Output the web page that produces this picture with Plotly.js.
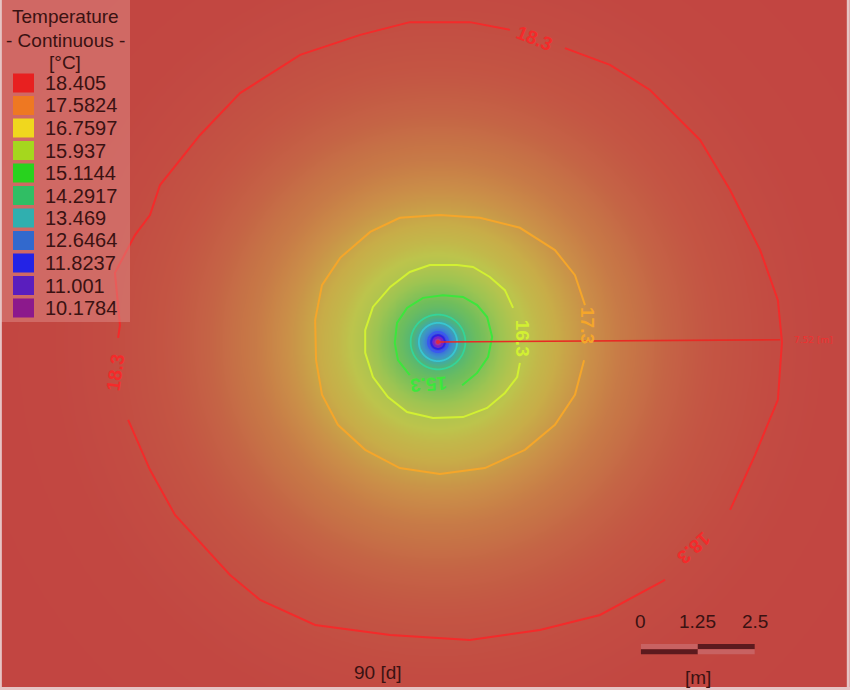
<!DOCTYPE html>
<html><head><meta charset="utf-8">
<script src="https://cdn.plot.ly/plotly-3.0.1.min.js"></script>
<style>html,body{margin:0;padding:0;background:#C24541;}#chart{width:850px;height:690px;}</style>
</head><body><div id="chart"></div>
<script>
// ---------- data ----------
// radial temperature profile around the borehole (distance m -> °C)
const profileR = [0, 0.05, 0.1, 0.15, 0.22, 0.42, 0.6, 0.8, 1.08, 1.4, 1.7, 2.2, 2.7, 3.2, 4.0, 5.0, 6.0, 7.3, 8.5, 10.5, 13];
const profileT = [10.0, 10.1, 10.3, 11.3, 12.3, 13.3, 14.3, 14.8, 15.3, 15.85, 16.3, 16.75, 17.05, 17.3, 17.65, 17.95, 18.15, 18.3, 18.37, 18.4, 18.405];

// displayed (faded) field colours
const fieldStopT = [10.0, 11.0, 12.0, 12.8, 13.4, 14.2, 15.0, 15.8, 16.5, 17.0, 17.4, 17.8, 18.1, 18.405];
const fieldStopColor = ['#A83C9A', '#4A2AD8', '#3C5AE0', '#3C90CC', '#42AAA4', '#52B676', '#70BE5C', '#9CC452',
  '#BCC44C', '#C8AC48', '#CA8C48', '#C67046', '#C45844', '#C24541'];

// legend
const legendTitle = ['Temperature', '- Continuous -', '[°C]'];
const legendValues = ['18.405', '17.5824', '16.7597', '15.937', '15.1144', '14.2917', '13.469', '12.6464', '11.8237', '11.001', '10.1784'];
const legendColors = ['#E82020', '#EE7822', '#F0D71E', '#A5D71E', '#28D21E', '#30BE64', '#30AFAF', '#3269CD', '#2323E6', '#5A1EBE', '#8C198C'];

// traced isolines (m); null = gap for the label
const iso183x = [2.79, 3.78, 4.66, 5.76, 6.42, 7.08, 7.47, 7.56, 7.47, 6.97, 6.42, null,
  4.99, 3.56, 2.24, 0.70, -1.05, -2.70, -3.91, -4.57, -5.78, -6.33, -6.81, null,
  -7.03, -6.99, -7.10, -6.66, -6.33, -6.11, -5.23, -4.35, -3.03, -1.71, -0.62, 0.70, 1.58];
const iso183y = [6.46, 6.09, 5.54, 4.44, 3.34, 2.02, 0.92, 0.00, -1.27, -2.48, -3.69, null,
  -5.23, -6.00, -6.33, -6.55, -6.44, -6.22, -5.67, -5.12, -3.80, -2.81, -1.71, null,
  0.09, 0.37, 1.52, 2.35, 2.79, 3.45, 4.55, 5.47, 6.31, 6.75, 7.03, 7.03, 6.86];
const iso173x = [3.21, 3.01, 2.57, 1.91, 1.03, 0.04, -0.84, -1.60, -2.20, -2.55, -2.68, -2.70, -2.55, -2.15, -1.49, -0.84, 0.04, 0.92, 1.80, 2.57, 3.01, 3.23];
const iso173y = [-0.40, -1.16, -1.82, -2.37, -2.77, -2.90, -2.77, -2.37, -1.82, -1.16, -0.40, 0.48, 1.25, 1.85, 2.42, 2.73, 2.79, 2.73, 2.51, 2.02, 1.47, 0.81];
const iso163x = [1.80, 1.74, 1.47, 1.08, 0.55, -0.11, -0.68, -1.10, -1.43, -1.60, -1.60, -1.43, -1.05, -0.62, -0.18, 0.42, 0.77, 1.14, 1.47, 1.65];
const iso163y = [-0.46, -0.77, -1.12, -1.45, -1.65, -1.67, -1.54, -1.21, -0.77, -0.24, 0.26, 0.77, 1.21, 1.54, 1.69, 1.69, 1.65, 1.43, 1.14, 0.75];
const iso153x = [0.53, 0.86, 1.10, 1.19, 1.08, 0.86, 0.55, 0.11, -0.33, -0.68, -0.90, -0.95, -0.88, -0.62];
const iso153y = [-0.95, -0.68, -0.33, 0.11, 0.55, 0.81, 0.99, 1.03, 0.97, 0.75, 0.42, -0.02, -0.40, -0.73];

const isoSets = [
  {x: iso183x, y: iso183y, color: '#F42A2A'},
  {x: iso173x, y: iso173y, color: '#F5A62A'},
  {x: iso163x, y: iso163y, color: '#D2F032'},
  {x: iso153x, y: iso153y, color: '#3CE63C'}
];
const innerLevels = [14.3, 13.3, 12.3, 11.3, 10.3];
const innerColors = ['#34D49A', '#38C6D2', '#3A58F0', '#2A22E2', '#7A22C8'];

// isoline labels
const isoLabelText = ['18.3', '18.3', '18.3', '17.3', '16.3', '15.3'];
const isoLabelX = [2.13, 5.63, -7.10, 3.30, 1.85, -0.22];
const isoLabelY = [6.68, -4.53, -0.66, 0.37, 0.09, -0.92];
const isoLabelAngle = [22, 138, -82, 90, 90, 176];
const isoLabelColor = ['#F42A2A', '#F42A2A', '#F42A2A', '#F5A62A', '#D2F032', '#3CE63C'];

const radiusLen = 7.52;       // m, measured line
const scaleTicks = [0, 1.25, 2.5];
const timeLabel = '90 [d]';

// ---------- build tables ----------
function tempAt(r) {
  if (r <= profileR[0]) return profileT[0];
  for (let i = 1; i < profileR.length; i++) {
    if (r <= profileR[i]) {
      const t = (r - profileR[i - 1]) / (profileR[i] - profileR[i - 1]);
      return profileT[i - 1] + t * (profileT[i] - profileT[i - 1]);
    }
  }
  return profileT[profileT.length - 1];
}
function grid(x0, x1, y0, y1, step) {
  const xs = [], ys = [], z = [];
  const nx = Math.round((x1 - x0) / step), ny = Math.round((y1 - y0) / step);
  for (let i = 0; i <= nx; i++) xs.push(x0 + i * step);
  for (let j = 0; j <= ny; j++) ys.push(y0 + j * step);
  for (let j = 0; j <= ny; j++) {
    const row = [];
    for (let i = 0; i <= nx; i++) row.push(tempAt(Math.hypot(xs[i], ys[j])));
    z.push(row);
  }
  return {xs, ys, z};
}
const zmin = fieldStopT[0], zmax = fieldStopT[fieldStopT.length - 1];
const colorscale = fieldStopT.map((t, i) => [(t - zmin) / (zmax - zmin), fieldStopColor[i]]);

const coarse = grid(-9.8, 9.2, -7.8, 7.7, 0.05);
const fine = grid(-0.9, 0.9, -0.9, 0.9, 0.01);

const traces = [];
traces.push({type: 'heatmap', x: coarse.xs, y: coarse.ys, z: coarse.z, zmin, zmax, colorscale,
  zsmooth: 'best', showscale: false, hoverinfo: 'skip'});
traces.push({type: 'heatmap', x: fine.xs, y: fine.ys, z: fine.z, zmin, zmax, colorscale,
  zsmooth: 'best', showscale: false, hoverinfo: 'skip'});
innerLevels.forEach((L, i) => traces.push({type: 'contour', x: fine.xs, y: fine.ys, z: fine.z,
  contours: {start: L, end: L, size: 1, coloring: 'none'}, line: {color: innerColors[i], width: 1.8, smoothing: 1},
  showscale: false, hoverinfo: 'skip'}));
isoSets.forEach(s => traces.push({type: 'scatter', mode: 'lines', x: s.x, y: s.y, connectgaps: false,
  line: {color: s.color, width: 2}, hoverinfo: 'skip'}));
traces.push({type: 'scatter', mode: 'lines', x: [0, radiusLen], y: [0, 0.05],
  line: {color: '#E82A24', width: 1.6}, hoverinfo: 'skip'});
traces.push({type: 'scatter', mode: 'markers', x: [0], y: [0],
  marker: {color: '#E02A40', size: 4}, hoverinfo: 'skip'});

// ---------- layout ----------
const W = 850, H = 690;
const px = v => v / W, py = v => 1 - v / H;
const textColor = '#3A1212';
const font = 'Liberation Sans, Arial, sans-serif';
const annotations = [];
const shapes = [];

isoLabelText.forEach((t, i) => annotations.push({x: isoLabelX[i], y: isoLabelY[i], xref: 'x', yref: 'y',
  text: '<b>' + t + '</b>', showarrow: false, textangle: isoLabelAngle[i],
  font: {family: font, size: 19, color: isoLabelColor[i]}}));
annotations.push({x: radiusLen, y: 0.05, xref: 'x', yref: 'y', text: radiusLen.toFixed(2) + ' [m]', showarrow: false,
  xanchor: 'left', xshift: 12, font: {family: 'DejaVu Sans, sans-serif', size: 9, color: '#F03030'}});

// legend box
shapes.push({type: 'rect', xref: 'paper', yref: 'paper', x0: 0, x1: px(130), y0: py(322), y1: 1,
  fillcolor: 'rgba(222,140,135,0.5)', line: {width: 0}, layer: 'above'});
const titleY = [16, 40, 62];
legendTitle.forEach((t, i) => annotations.push({x: px(65), y: py(titleY[i]), xref: 'paper', yref: 'paper', text: t,
  showarrow: false, xanchor: 'center', yanchor: 'middle', font: {family: font, size: 19, color: textColor}}));
legendValues.forEach((v, i) => {
  const cy = 83 + i * 22.5;
  shapes.push({type: 'rect', xref: 'paper', yref: 'paper', x0: px(13), x1: px(34), y0: py(cy + 9.5), y1: py(cy - 9.5),
    fillcolor: legendColors[i], line: {width: 0}, layer: 'above'});
  annotations.push({x: px(43), y: py(cy), xref: 'paper', yref: 'paper', text: v, showarrow: false,
    xanchor: 'left', yanchor: 'middle', font: {family: font, size: 20, color: textColor}});
});

// scale bar (data coordinates, metres)
const sb0 = 4.46, sbTop = -6.64, sbMid = -6.75, sbBot = -6.86;
const half = scaleTicks[1] - scaleTicks[0];
const sbLight = '#C86262', sbDark = '#5C1A1E';
shapes.push({type: 'rect', x0: sb0, x1: sb0 + half, y0: sbMid, y1: sbTop, fillcolor: sbLight, line: {width: 0}});
shapes.push({type: 'rect', x0: sb0, x1: sb0 + half, y0: sbBot, y1: sbMid, fillcolor: sbDark, line: {width: 0}});
shapes.push({type: 'rect', x0: sb0 + half, x1: sb0 + 2 * half, y0: sbMid, y1: sbTop, fillcolor: sbDark, line: {width: 0}});
shapes.push({type: 'rect', x0: sb0 + half, x1: sb0 + 2 * half, y0: sbBot, y1: sbMid, fillcolor: sbLight, line: {width: 0}});
scaleTicks.forEach(t => annotations.push({x: sb0 + t, y: py(621), xref: 'x', yref: 'paper', text: String(t),
  showarrow: false, xanchor: 'center', yanchor: 'middle', font: {family: font, size: 19, color: textColor}}));
annotations.push({x: sb0 + half, y: py(677), xref: 'x', yref: 'paper', text: '[m]', showarrow: false,
  xanchor: 'center', yanchor: 'middle', font: {family: font, size: 19, color: textColor}});
annotations.push({x: px(378), y: py(672), xref: 'paper', yref: 'paper', text: timeLabel, showarrow: false,
  xanchor: 'center', yanchor: 'middle', font: {family: font, size: 19, color: textColor}});

// thin frame
shapes.push({type: 'line', xref: 'paper', yref: 'paper', x0: 0.001, x1: 0.001, y0: 0, y1: 1, line: {color: '#E6C4C4', width: 2}, layer: 'above'});
shapes.push({type: 'line', xref: 'paper', yref: 'paper', x0: 0.998, x1: 0.998, y0: 0, y1: 1, line: {color: '#E6C4C4', width: 3}, layer: 'above'});
shapes.push({type: 'line', xref: 'paper', yref: 'paper', x0: 0, x1: 1, y0: 0.002, y1: 0.002, line: {color: '#E6C4C4', width: 3}, layer: 'above'});

const pxPerM = 45.5, cx = 438, cy = 342;
const layout = {
  width: W, height: H, margin: {l: 0, r: 0, t: 0, b: 0},
  paper_bgcolor: '#C24541', plot_bgcolor: '#C24541', showlegend: false,
  xaxis: {range: [-cx / pxPerM, (W - cx) / pxPerM], visible: false, fixedrange: true},
  yaxis: {range: [-(H - cy) / pxPerM, cy / pxPerM], visible: false, fixedrange: true},
  shapes, annotations
};
Plotly.newPlot('chart', traces, layout, {staticPlot: true, displayModeBar: false});
</script></body></html>
